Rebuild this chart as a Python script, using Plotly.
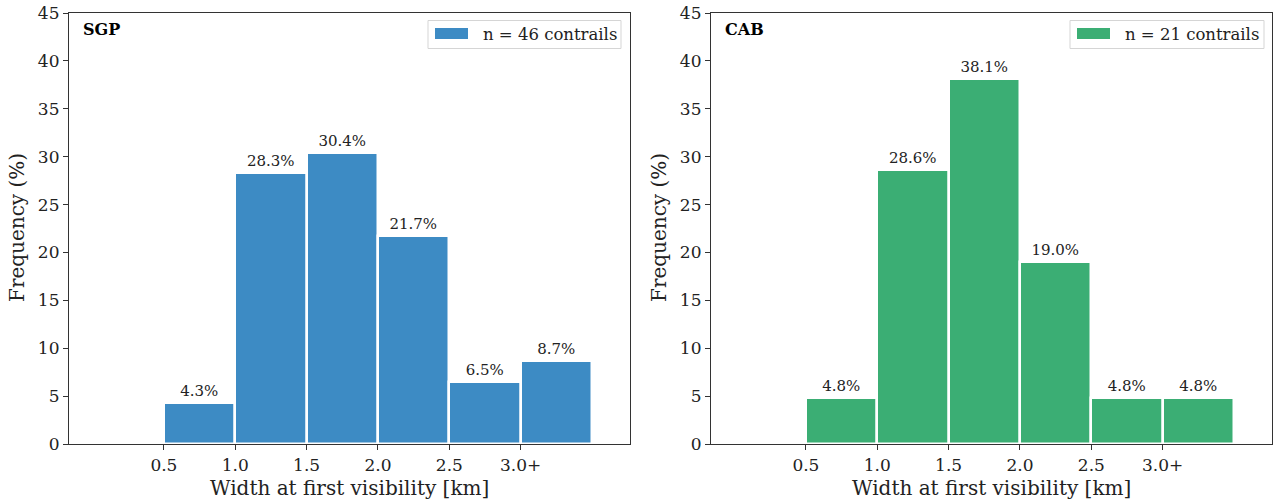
import plotly.graph_objects as go

# ---- data ----
bin_left = [0.5, 1.0, 1.5, 2.0, 2.5, 3.0]
bin_width = 0.5
tick_vals = [0.5, 1.0, 1.5, 2.0, 2.5, 3.0]
tick_text = ["0.5", "1.0", "1.5", "2.0", "2.5", "3.0+"]
sgp_pct = [4.3, 28.3, 30.4, 21.7, 6.5, 8.7]
cab_pct = [4.8, 28.6, 38.1, 19.0, 4.8, 4.8]
sgp_n = 46
cab_n = 21
y_ticks = [0, 5, 10, 15, 20, 25, 30, 35, 40, 45]
x_title = "Width at first visibility [km]"
y_title = "Frequency (%)"

FONT = "DejaVu Serif"
W, H = 1279, 501
ML, MR, MT, MB = 69, 7, 13, 57
BLUE = "rgb(61,139,196)"
GREEN = "rgb(59,174,116)"

def px_x(p):
    return (p - ML) / (W - ML - MR)

def px_y(p):
    return (H - MB - p) / (H - MT - MB)

centers = [b + bin_width / 2 for b in bin_left]

fig = go.Figure()
for vals, color, xa, ya in [(sgp_pct, BLUE, "x", "y"), (cab_pct, GREEN, "x2", "y2")]:
    fig.add_trace(go.Bar(
        x=centers, y=vals, width=[bin_width] * len(vals),
        marker=dict(color=color, line=dict(color="white", width=2.5)),
        text=[f"{v:.1f}%" for v in vals], textposition="outside",
        textfont=dict(family=FONT, size=15, color="#222"),
        cliponaxis=False, xaxis=xa, yaxis=ya, showlegend=False,
    ))

d1 = [0, px_x(630)]
d2 = [px_x(711), 1]
axcommon = dict(showline=True, mirror=True, linecolor="#333", linewidth=1.2,
                ticks="outside", ticklen=5, tickcolor="#333", showgrid=False,
                zeroline=False, automargin=False,
                tickfont=dict(family=FONT, size=17, color="#222"))
xcommon = dict(axcommon, range=[-0.165, 3.766], tickvals=tick_vals, ticktext=tick_text)
ycommon = dict(axcommon, range=[0, 45], tickvals=y_ticks)

fig.update_layout(
    width=W, height=H, margin=dict(l=ML, r=MR, t=MT, b=MB),
    plot_bgcolor="white", paper_bgcolor="white",
    xaxis=dict(xcommon, domain=d1, anchor="y"),
    yaxis=dict(ycommon, anchor="x"),
    xaxis2=dict(xcommon, domain=d2, anchor="y2"),
    yaxis2=dict(ycommon, anchor="x2"),
    bargap=0, showlegend=False,
)

shapes = []
annotations = []
for (bx0, bx1, px0, px1, tx, label, color, name_x, name, x_center, y_title_x) in [
    (428, 621, 435, 468, 481, f"n = {sgp_n} contrails", BLUE, 81, "SGP", 349.5, 17),
    (1070, 1264, 1077, 1110, 1123, f"n = {cab_n} contrails", GREEN, 723, "CAB", 991.5, 659),
]:
    shapes.append(dict(type="rect", xref="paper", yref="paper",
                       x0=px_x(bx0), x1=px_x(bx1), y0=px_y(48.5), y1=px_y(20.5),
                       line=dict(color="#d5d5d5", width=1), fillcolor="white"))
    shapes.append(dict(type="rect", xref="paper", yref="paper",
                       x0=px_x(px0), x1=px_x(px1), y0=px_y(39), y1=px_y(28),
                       line=dict(width=0), fillcolor=color))
    annotations.append(dict(xref="paper", yref="paper", x=px_x(tx), y=px_y(34),
                            xanchor="left", yanchor="middle", text=label, showarrow=False,
                            font=dict(family=FONT, size=16.5, color="#222")))
    annotations.append(dict(xref="paper", yref="paper", x=px_x(name_x), y=px_y(29),
                            xanchor="left", yanchor="middle", text=f"<b>{name}</b>",
                            showarrow=False, font=dict(family=FONT, size=16, color="black")))
    annotations.append(dict(xref="paper", yref="paper", x=px_x(x_center), y=px_y(488),
                            xanchor="center", yanchor="middle", text=x_title, showarrow=False,
                            font=dict(family=FONT, size=20, color="#222")))
    annotations.append(dict(xref="paper", yref="paper", x=px_x(y_title_x), y=px_y(228),
                            xanchor="center", yanchor="middle", text=y_title, showarrow=False,
                            textangle=-90, font=dict(family=FONT, size=20, color="#222")))

fig.update_layout(shapes=shapes, annotations=annotations)
fig.write_html("out.html")
